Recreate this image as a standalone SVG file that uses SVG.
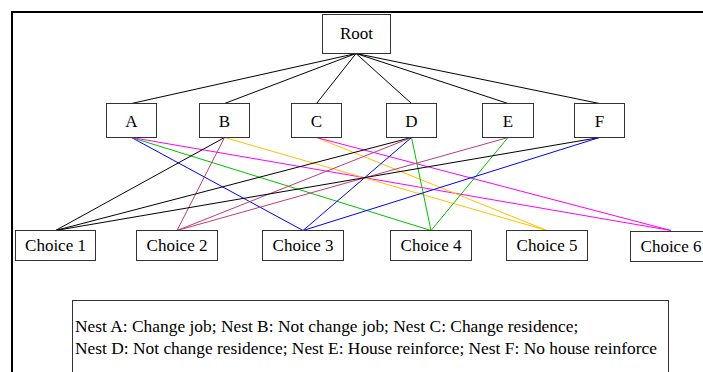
<svg xmlns="http://www.w3.org/2000/svg" width="703" height="372" viewBox="0 0 703 372">
<style>
.box{fill:#fff;stroke:#333;stroke-width:1}
.t{font-family:"Liberation Serif","Times New Roman",serif;font-size:17px;fill:#000;text-anchor:middle}
.lg{font-family:"Liberation Serif","Times New Roman",serif;font-size:17.4px;fill:#000}
.k{stroke:#000;stroke-width:1;fill:none}
.c2{stroke:#C03C78;stroke-width:1;fill:none}
.c3{stroke:#0000FF;stroke-width:1;fill:none}
.c4{stroke:#00C000;stroke-width:1;fill:none}
.c5{stroke:#FFC000;stroke-width:1;fill:none}
.c6{stroke:#FF00FF;stroke-width:1;fill:none}
</style>
<rect width="703" height="372" fill="#fff"/>
<path d="M12,373 V12 H704" fill="none" stroke="#000" stroke-width="2"/>
<g id="connectors">
<line class="k" x1="356" y1="53.5" x2="131.5" y2="103.5"/>
<line class="k" x1="356" y1="53.5" x2="224.5" y2="103.5"/>
<line class="k" x1="356" y1="53.5" x2="316.5" y2="103.5"/>
<line class="k" x1="356" y1="53.5" x2="411.5" y2="103.5"/>
<line class="k" x1="356" y1="53.5" x2="508" y2="103.5"/>
<line class="k" x1="356" y1="53.5" x2="599.5" y2="103.5"/>
<line class="c3" x1="131.5" y1="137.5" x2="303" y2="230.5"/>
<line class="c4" x1="131.5" y1="137.5" x2="431" y2="230.5"/>
<line class="c6" x1="131.5" y1="137.5" x2="671" y2="230.5"/>
<line class="k" x1="224.5" y1="137.5" x2="55.5" y2="230.5"/>
<line class="c2" x1="224.5" y1="137.5" x2="177" y2="230.5"/>
<line class="c5" x1="224.5" y1="137.5" x2="547" y2="230.5"/>
<line class="c5" x1="316.5" y1="137.5" x2="547" y2="230.5"/>
<line class="c6" x1="316.5" y1="137.5" x2="671" y2="230.5"/>
<line class="k" x1="411.5" y1="137.5" x2="55.5" y2="230.5"/>
<line class="c2" x1="411.5" y1="137.5" x2="177" y2="230.5"/>
<line class="c3" x1="411.5" y1="137.5" x2="303" y2="230.5"/>
<line class="c4" x1="411.5" y1="137.5" x2="431" y2="230.5"/>
<line class="c2" x1="508" y1="137.5" x2="177" y2="230.5"/>
<line class="c4" x1="508" y1="137.5" x2="431" y2="230.5"/>
<line class="k" x1="599.5" y1="137.5" x2="55.5" y2="230.5"/>
<line class="c3" x1="599.5" y1="137.5" x2="303" y2="230.5"/>
</g>
<g id="root"><rect class="box" x="322.5" y="14.5" width="68" height="39"/><text class="t" x="356.5" y="39">Root</text></g>
<g id="A"><rect class="box" x="106.5" y="103.5" width="50" height="34"/><text class="t" x="131.5" y="126.5">A</text></g>
<g id="B"><rect class="box" x="199.5" y="103.5" width="50" height="34"/><text class="t" x="224.5" y="126.5">B</text></g>
<g id="C"><rect class="box" x="291.5" y="103.5" width="50" height="34"/><text class="t" x="316.5" y="126.5">C</text></g>
<g id="D"><rect class="box" x="386.5" y="103.5" width="50" height="34"/><text class="t" x="411.5" y="126.5">D</text></g>
<g id="E"><rect class="box" x="482.5" y="103.5" width="51" height="34"/><text class="t" x="508" y="126.5">E</text></g>
<g id="F"><rect class="box" x="574.5" y="103.5" width="50" height="34"/><text class="t" x="599.5" y="126.5">F</text></g>
<g id="choice1"><rect class="box" x="15.5" y="230.5" width="80" height="30"/><text class="t" x="55.5" y="251">Choice 1</text></g>
<g id="choice2"><rect class="box" x="136.5" y="230.5" width="81" height="30"/><text class="t" x="177" y="251">Choice 2</text></g>
<g id="choice3"><rect class="box" x="262.5" y="230.5" width="81" height="30"/><text class="t" x="303" y="251">Choice 3</text></g>
<g id="choice4"><rect class="box" x="390.5" y="230.5" width="81" height="30"/><text class="t" x="431" y="251">Choice 4</text></g>
<g id="choice5"><rect class="box" x="506.5" y="230.5" width="81" height="30"/><text class="t" x="547" y="251">Choice 5</text></g>
<g id="choice6"><rect class="box" x="630.5" y="231.5" width="81" height="30"/><text class="t" x="671" y="252">Choice 6</text></g>
<g id="legend"><rect class="box" x="72.5" y="300.5" width="596" height="100"/>
<text class="lg" x="75" y="332">Nest A: Change job; Nest B: Not change job; Nest C: Change residence;</text>
<text class="lg" x="75" y="354">Nest D: Not change residence; Nest E: House reinforce; Nest F: No house reinforce</text></g>
</svg>
